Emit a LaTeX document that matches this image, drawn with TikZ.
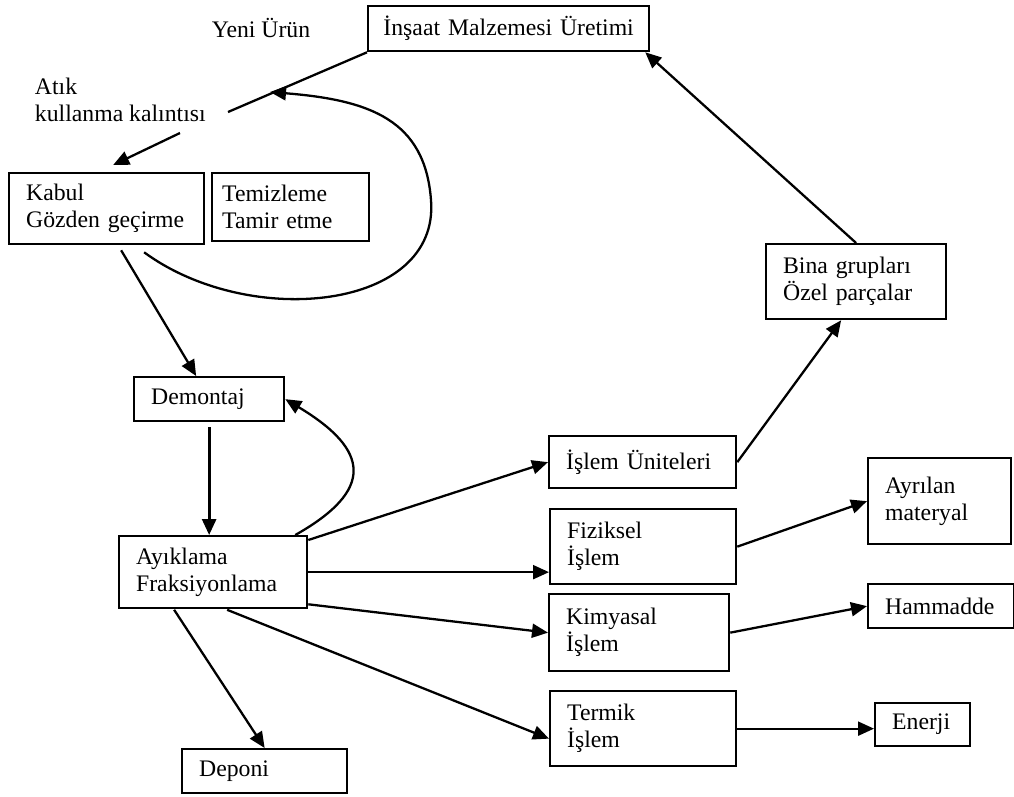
\documentclass[tikz,border=0pt]{standalone}
\usepackage{fontspec}
\setmainfont{Liberation Serif}
\usetikzlibrary{arrows.meta, calc}

\begin{document}
\begin{tikzpicture}[font=\fontsize{13.5}{15.4}\selectfont, line width=1.3pt,
  kutu/.style={draw, line width=1.3pt, anchor=north west, align=left, inner xsep=0.34cm, inner ysep=0pt},
  ok/.style={-{Triangle[length=3.2mm,width=2.8mm]}}]
\useasboundingbox (0,0) rectangle (20.28,-15.92);
% boxes
\node[kutu, align=center, inner xsep=0.12cm, text width=5.38cm, minimum height=0.90cm] (ins) at (7.34,-0.10) {İnşaat Malzemesi Üretimi};
\node[kutu, text width=3.22cm, minimum height=1.42cm] (kabul) at (0.16,-3.44) {Kabul\\Gözden geçirme};
\node[kutu, inner xsep=0.2cm, text width=2.74cm, minimum height=1.36cm] (temiz) at (4.22,-3.44) {Temizleme\\Tamir etme};
\node[kutu, text width=2.32cm, minimum height=0.88cm] (demontaj) at (2.66,-7.52) {Demontaj};
\node[kutu, text width=3.08cm, minimum height=1.44cm] (ayik) at (2.36,-10.70) {Ayıklama\\Fraksiyonlama};
\node[kutu, text width=2.62cm, minimum height=0.88cm] (deponi) at (3.62,-14.96) {Deponi};
\node[kutu, text width=3.06cm, minimum height=1.04cm] (unite) at (10.96,-8.70) {İşlem Üniteleri};
\node[kutu, text width=3.04cm, minimum height=1.50cm] (fiz) at (10.98,-10.16) {Fiziksel\\İşlem};
\node[kutu, text width=2.92cm, minimum height=1.54cm] (kim) at (10.96,-11.86) {Kimyasal\\İşlem};
\node[kutu, text width=3.04cm, minimum height=1.50cm] (termik) at (10.98,-13.80) {Termik\\İşlem};
\node[kutu, text width=2.92cm, minimum height=1.50cm] (bina) at (15.30,-4.86) {Bina grupları\\Özel parçalar};
\node[kutu, text width=2.18cm, minimum height=1.72cm] (ayril) at (17.34,-9.14) {Ayrılan\\materyal};
\node[kutu, text width=2.24cm, minimum height=0.88cm] (ham) at (17.34,-11.66) {Hammadde};
\node[kutu, text width=1.22cm, minimum height=0.86cm] (enerji) at (17.48,-14.04) {Enerji};
% free labels
\node (yeni) at (5.22,-0.56) {Yeni Ürün};
\node[anchor=west, align=left] (atik) at (0.56,-2.0) {Atık\\kullanma kalıntısı};
\coordinate (k1) at (4.56,-2.24);
\coordinate (k2) at (3.60,-2.66);
\coordinate (geri) at (5.40,-1.84);
% connectors
\draw (ins.south west) -- (k1);
\draw[ok] (k2) -- ([xshift=1.3mm,yshift=1.4mm]kabul.north);
\draw[ok] ($(kabul.south)+(0.75,-0.14)$) .. controls (5.0,-6.6) and (8.8,-6.2) .. (8.62,-4.0)
  .. controls (8.5,-2.4) and (7.4,-2.0) .. (geri);
\draw[ok] ([xshift=2.9mm,yshift=-1mm]kabul.south) -- ([xshift=-2.6mm]demontaj.north);
\draw[ok, line width=1.6pt] ([yshift=-1mm]demontaj.south) -- (demontaj.south |- ayik.north);
\draw[ok] ([xshift=-2.6mm]ayik.north east) .. controls (7.5,-9.8) and (7.4,-9.0) .. (demontaj.east);
\draw[ok] ([yshift=-1mm]ayik.north east) -- (unite.west);
\draw[ok] (ayik.east) -- (ayik.east -| fiz.west);
\draw[ok] ([yshift=1mm]ayik.south east) -- (kim.west);
\draw[ok] ([xshift=2.8mm,yshift=-0.1mm]ayik.south) -- ([yshift=-2mm]termik.west);
\draw[ok] ([xshift=-7.8mm,yshift=-0.1mm]ayik.south) -- (deponi.north);
\draw[ok] (unite.east) -- ([xshift=-3mm]bina.south);
\draw[ok] (bina.north) -- ([xshift=-1mm]ins.south east);
\draw[ok] (fiz.east) -- (ayril.west);
\draw[ok] (kim.east) -- (ham.west);
\draw[ok] (termik.east) -- (termik.east -| enerji.west);
\end{tikzpicture}
\end{document}
